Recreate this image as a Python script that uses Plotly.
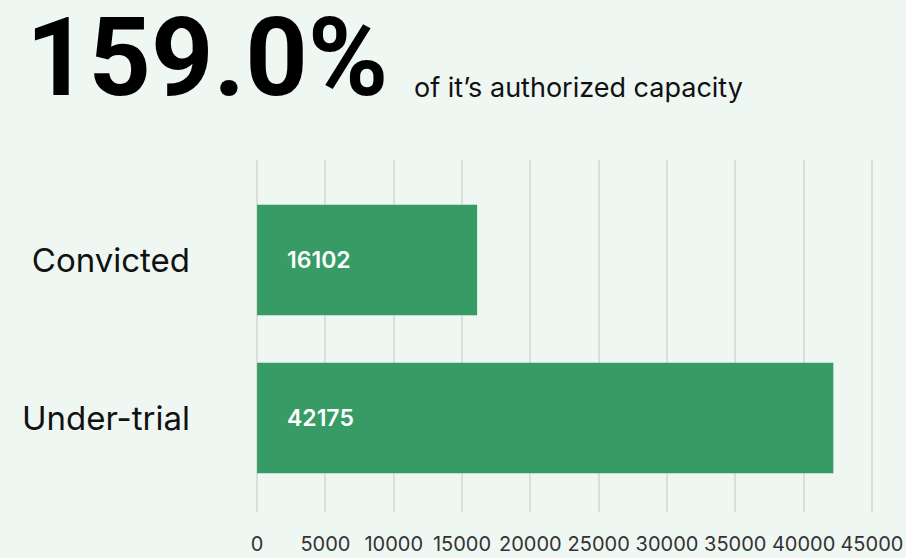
import plotly.graph_objects as go

categories = ["Convicted", "Under-trial"]
values = [16102, 42175]
headline = "159.0%"
subtitle = "of it\u2019s authorized capacity"
tick_values = [0, 5000, 10000, 15000, 20000, 25000, 30000, 35000, 40000, 45000]
tick_labels = [str(v) for v in tick_values]

BG = "#EEF7F2"
BAR = "#369B65"
GRID = "#DCDEDC"

fig = go.Figure()
fig.add_trace(go.Bar(
    x=values, y=categories, orientation="h",
    marker=dict(color=BAR, line=dict(width=0)),
    width=0.7, hoverinfo="skip",
))

for c, v in zip(categories, values):
    fig.add_annotation(
        x=0, y=c, xref="x", yref="y", text=str(v),
        showarrow=False, xanchor="left", xshift=28,
        font=dict(family="Inter, Roboto, sans-serif", size=23, color="white", weight=600),
    )

# subtitle next to the headline (paper coords relative to plot area 256..873 x 160..512)
fig.add_annotation(
    x=(412 - 256) / 617, xref="paper", xanchor="left",
    y=(512 - 106) / 352, yref="paper", yanchor="bottom",
    text=subtitle, showarrow=False,
    font=dict(family="Inter, Roboto, sans-serif", size=27, color="#111111"),
)

fig.update_layout(
    width=906, height=558,
    paper_bgcolor=BG, plot_bgcolor=BG,
    margin=dict(l=256, r=33, t=160, b=46, autoexpand=False),
    showlegend=False,
    title=dict(
        text=f"<b>{headline}</b>",
        x=26 / 906, xanchor="left", xref="container",
        y=1 - 19 / 558, yanchor="top", yref="container",
        font=dict(family="Roboto, Arial, sans-serif", size=109, color="#000000"),
    ),
    xaxis=dict(
        range=[-80, 45080], tickvals=tick_values, ticktext=tick_labels,
        showgrid=True, gridcolor=GRID, gridwidth=2,
        zeroline=False, showline=False, automargin=False,
        tickfont=dict(family="Inter, Roboto, sans-serif", size=20, color="#333333"),
        ticklabelstandoff=18,
    ),
    yaxis=dict(
        range=[1.595, -0.633], automargin=False,
        showgrid=False, zeroline=False, showline=False,
        tickfont=dict(family="Inter, Roboto, sans-serif", size=33, color="#111111"),
        ticklabelstandoff=65,
    ),
)

fig.write_html(
    "out.html",
    config={"displayModeBar": False},
    post_script="document.body.style.margin='0';document.body.style.background='" + BG + "';",
)
